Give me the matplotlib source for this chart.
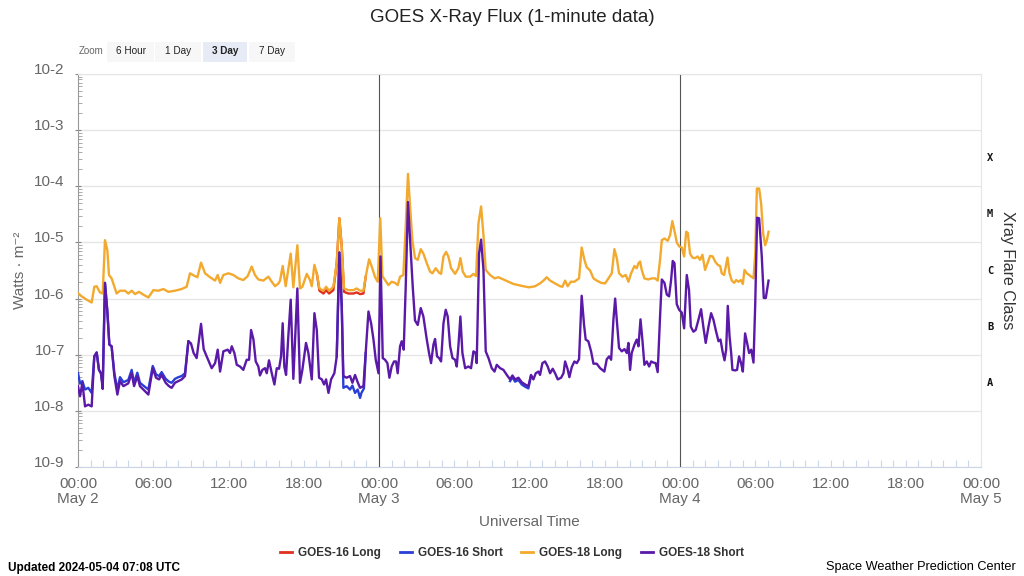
import numpy as np
import matplotlib
matplotlib.use("Agg")
import matplotlib.pyplot as plt
from matplotlib.patches import Rectangle
from matplotlib.lines import Line2D
from matplotlib.transforms import blended_transform_factory

plt.rcParams['font.family'] = ['Liberation Sans', 'DejaVu Sans']

# ---------------- data (hours since 2024-05-02 00:00 UTC, log10 of W/m^2) -------------
g18_long_t = [0, 0.29, 0.69, 1.09, 1.3, 1.49, 1.75, 1.97, 2.15, 2.34, 2.47, 2.68, 3.08, 3.35, 3.75, 4.01,
              4.28, 4.55, 4.86, 5.21, 5.61, 6.01, 6.41, 6.81, 7.2, 7.73, 8.27, 8.66, 8.93, 9.33, 9.52, 9.81,
              10.13, 10.53, 10.93, 11.14, 11.33, 11.59, 11.99,
              12.39, 12.78, 13.18, 13.53, 13.85, 14.11, 14.38, 14.78, 15.18, 15.45, 15.71, 15.98, 16.11, 16.32,
              16.56, 16.96, 17.17, 17.49, 17.7, 17.89, 18.24, 18.5, 18.64, 18.85, 19.04, 19.25, 19.57, 19.78,
              20.02, 20.36, 20.63, 20.84, 21.03, 21.21, 21.56, 21.96, 22.22, 22.49, 22.76, 22.94, 23.21, 23.42,
              23.69, 23.9, 24.1, 24.27,
              24.48, 24.75, 25.01, 25.28, 25.49, 25.68, 25.94, 26.13, 26.31, 26.48, 26.66, 26.87, 27.09, 27.33,
              27.54, 27.81, 28.07, 28.26, 28.52, 28.79, 28.95, 29.14, 29.35, 29.53, 29.75, 30.07, 30.33, 30.49,
              30.68, 30.92, 31.27, 31.53, 31.74, 31.93, 32.14, 32.33, 32.51, 32.86, 33.21, 33.52, 33.92, 34.32,
              34.72, 35.12, 35.51, 35.97,
              36.44, 36.84, 37.11, 37.37, 37.64, 38.04, 38.44, 38.62, 38.84, 39.05, 39.29, 39.58, 39.95, 40.16,
              40.38, 40.56, 40.83, 41.1, 41.36, 41.71, 42.03, 42.3, 42.56, 42.77, 42.96, 43.14, 43.41, 43.67,
              43.89, 44.1, 44.37, 44.55, 44.69, 44.82, 44.95, 45.16, 45.48, 45.75, 46.01, 46.22, 46.41, 46.55,
              46.76, 47.02, 47.21, 47.39, 47.61,
              47.74, 47.93, 48.14, 48.33, 48.49, 48.62, 48.8, 48.99, 49.2, 49.41, 49.6, 49.79, 50.0, 50.19,
              50.4, 50.61, 50.8, 51.01, 51.2, 51.33, 51.52, 51.65, 51.79, 51.95, 52.13, 52.32, 52.48, 52.66,
              52.85, 53.01, 53.14, 53.33, 53.52, 53.68, 53.86, 54.0, 54.13, 54.31, 54.47, 54.63, 54.79, 54.93,
              55.06]
g18_long_log = [-5.905, -5.96, -6.02, -6.07, -5.79, -5.78, -5.89, -5.91, -4.96, -5.14, -5.58, -5.64, -5.91,
                -5.86, -5.86, -5.91, -5.86, -5.92, -5.88, -5.93, -5.98, -5.85, -5.86, -5.83, -5.88, -5.86,
                -5.83, -5.79, -5.55, -5.60, -5.62, -5.36, -5.55, -5.62, -5.68, -5.58, -5.72, -5.58, -5.55,
                -5.58, -5.64, -5.67, -5.60, -5.43, -5.58, -5.66, -5.68, -5.61, -5.70, -5.78, -5.73, -5.68,
                -5.42, -5.78, -5.20, -5.80, -5.05, -5.82, -5.79, -5.56, -5.67, -5.78, -5.40, -5.55, -5.82,
                -5.86, -5.79, -5.86, -5.79, -5.37, -4.57, -5.08, -5.82, -5.85, -5.85, -5.82, -5.86, -5.86,
                -5.61, -5.30, -5.43, -5.62, -5.70, -4.57, -5.60,
                -5.67, -5.76, -5.70, -5.72, -5.76, -5.61, -5.58, -4.72, -3.78, -4.37, -4.96, -5.28, -5.31,
                -5.12, -5.20, -5.37, -5.52, -5.55, -5.46, -5.54, -5.56, -5.25, -5.17, -5.25, -5.46, -5.56,
                -5.46, -5.28, -5.52, -5.61, -5.61, -5.56, -5.60, -4.66, -4.36, -4.87, -5.49, -5.58, -5.64,
                -5.62, -5.66, -5.70, -5.74, -5.76, -5.78, -5.80,
                -5.78, -5.73, -5.68, -5.62, -5.68, -5.73, -5.78, -5.79, -5.68, -5.78, -5.70, -5.70, -5.64,
                -5.09, -5.31, -5.44, -5.50, -5.64, -5.68, -5.72, -5.73, -5.64, -5.55, -5.12, -5.28, -5.55,
                -5.61, -5.58, -5.70, -5.55, -5.42, -5.46, -5.37, -5.34, -5.49, -5.64, -5.66, -5.64, -5.64,
                -5.68, -5.31, -4.96, -4.93, -4.97, -4.87, -4.62, -4.85,
                -5.00, -5.07, -5.09, -5.25, -4.81, -4.83, -5.20, -5.27, -5.28, -5.25, -5.31, -5.22, -5.49,
                -5.37, -5.24, -5.25, -5.34, -5.40, -5.42, -5.55, -5.58, -5.43, -5.27, -5.55, -5.68, -5.72,
                -5.67, -5.70, -5.67, -5.74, -5.49, -5.55, -5.58, -5.61, -5.64, -5.20, -4.04, -4.04, -4.31,
                -4.84, -5.05, -4.96, -4.81]

g18_short_t = [0, 0.16, 0.35, 0.56, 0.82, 1.09, 1.3, 1.49, 1.67, 1.83, 1.97, 2.15, 2.34, 2.5, 2.68, 2.9,
               3.14, 3.35, 3.62, 4.01, 4.28, 4.47, 4.73, 4.94, 5.21, 5.61, 5.96, 6.22, 6.46, 6.67, 6.99, 7.25,
               7.47, 7.73, 8.0, 8.27, 8.53, 8.8, 9.01, 9.22, 9.46, 9.81, 10.02, 10.26, 10.66, 10.93, 11.14,
               11.33, 11.59, 11.94,
               12.12, 12.26, 12.47, 12.66, 12.92, 13.18, 13.45, 13.64, 13.8, 13.99, 14.17, 14.38, 14.51, 14.7,
               14.91, 15.05, 15.23, 15.45, 15.66, 15.85, 16.03, 16.19, 16.32, 16.45, 16.59, 16.77, 16.96,
               17.17, 17.3, 17.49, 17.7, 17.89, 18.18, 18.37, 18.64, 18.85, 19.04, 19.22, 19.44, 19.62, 19.78,
               19.97, 20.18, 20.44, 20.63, 20.84, 21.03, 21.16, 21.42, 21.69, 21.88, 22.09, 22.3, 22.49, 22.76,
               22.94, 23.16, 23.37, 23.56, 23.74, 23.96, 24.12, 24.3,
               24.48, 24.67, 24.83, 25.01, 25.2, 25.36, 25.49, 25.68, 25.81, 25.97, 26.13, 26.31, 26.5, 26.69,
               26.87, 27.09, 27.33, 27.54, 27.81, 27.99, 28.15, 28.34, 28.47, 28.63, 28.79, 28.95, 29.14,
               29.32, 29.48, 29.67, 29.86, 30.07, 30.2, 30.33, 30.49, 30.65, 30.87, 31.13, 31.34, 31.53,
               31.71, 31.79, 31.98, 32.14, 32.33, 32.51, 32.73, 32.99, 33.21, 33.39, 33.66, 33.92, 34.19,
               34.45, 34.64, 34.85, 35.12, 35.38, 35.65,
               35.91, 36.12, 36.31, 36.5, 36.71, 36.84, 37.03, 37.24, 37.45, 37.64, 37.85, 38.04, 38.25, 38.52,
               38.71, 38.84, 39.03, 39.18, 39.37, 39.58, 39.77, 39.95, 40.16, 40.35, 40.48, 40.69, 40.91,
               41.1, 41.36, 41.63, 41.97, 42.16, 42.35, 42.51, 42.69, 42.83, 42.96, 43.14, 43.36, 43.57,
               43.76, 43.89, 44.02, 44.15, 44.37, 44.55, 44.69, 44.85, 45.0, 45.16, 45.35, 45.54, 45.7,
               45.88, 46.06, 46.22, 46.41, 46.55, 46.76, 46.95, 47.13, 47.29, 47.42, 47.56,
               47.74, 47.93, 48.14, 48.33, 48.54, 48.72, 48.86, 49.07, 49.25, 49.47, 49.68, 49.86, 50.05,
               50.27, 50.48, 50.67, 50.85, 51.07, 51.23, 51.39, 51.55, 51.68, 51.81, 51.95, 52.08, 52.18,
               52.4, 52.55, 52.71, 52.87, 53.01, 53.19, 53.35, 53.51, 53.68, 53.86, 54.0, 54.15, 54.31,
               54.52, 54.68, 54.84, 55.06]
g18_short_log = [-7.56, -7.74, -7.50, -7.92, -7.89, -7.92, -7.03, -6.96, -7.27, -7.33, -7.61, -5.72, -6.23,
                 -6.82, -6.85, -7.38, -7.71, -7.47, -7.56, -7.51, -7.33, -7.56, -7.38, -7.56, -7.62, -7.71,
                 -7.24, -7.41, -7.44, -7.36, -7.50, -7.56, -7.59, -7.50, -7.47, -7.44, -7.38, -6.76, -6.80,
                 -6.97, -7.06, -6.45, -6.90, -7.03, -7.24, -7.15, -6.91, -7.30, -6.94, -6.91,
                 -6.97, -6.85, -6.97, -7.18, -7.21, -7.27, -7.09, -7.09, -6.56, -6.73, -7.12, -7.21, -7.37,
                 -7.27, -7.24, -7.33, -7.10, -7.33, -7.53, -7.24, -7.25, -7.03, -6.44, -7.21, -7.36, -6.67,
                 -6.02, -7.43, -6.79, -5.82, -7.50, -7.27, -6.79, -6.97, -7.44, -6.26, -6.56, -7.41, -7.44,
                 -7.53, -7.44, -7.68, -7.44, -7.33, -7.03, -5.18, -6.14, -7.38, -7.41, -7.38, -7.50, -7.36,
                 -7.49, -7.59, -7.56, -6.97, -6.23, -6.44, -6.73, -7.09, -7.33, -5.25, -7.06,
                 -7.09, -7.15, -7.41, -7.21, -7.12, -7.12, -7.33, -6.85, -6.76, -6.91, -5.79, -4.28, -5.02,
                 -5.79, -6.39, -6.47, -6.17, -6.32, -6.73, -6.97, -7.15, -6.82, -6.72, -7.03, -7.06, -7.12,
                 -6.44, -6.20, -6.32, -6.85, -7.06, -7.09, -7.21, -6.85, -6.32, -6.97, -7.24, -7.21, -7.24,
                 -6.94, -6.97, -7.15, -5.20, -4.95, -5.49, -6.94, -7.06, -7.24, -7.30, -7.18, -7.24, -7.27,
                 -7.36, -7.44, -7.37, -7.44, -7.41, -7.49, -7.53,
                 -7.56, -7.36, -7.44, -7.33, -7.30, -7.36, -7.15, -7.12, -7.21, -7.33, -7.25, -7.33, -7.44,
                 -7.41, -7.33, -7.12, -7.25, -7.40, -7.22, -7.12, -7.15, -7.08, -5.95, -6.47, -6.73, -6.76,
                 -6.94, -7.16, -7.16, -7.24, -7.30, -7.08, -7.03, -7.09, -6.38, -6.00, -6.38, -6.88, -6.94,
                 -6.90, -6.97, -6.79, -7.27, -6.97, -6.82, -6.73, -6.85, -6.37, -6.73, -7.18, -7.12, -7.21,
                 -7.12, -7.14, -7.15, -7.31, -6.32, -5.66, -5.72, -5.93, -5.96, -5.67, -5.33, -5.37,
                 -6.10, -6.20, -6.25, -6.53, -5.58, -5.85, -6.50, -6.59, -6.56, -6.38, -6.19, -6.50, -6.79,
                 -6.50, -6.26, -6.38, -6.56, -6.76, -6.73, -6.94, -7.10, -6.91, -6.13, -6.67, -6.97, -7.27,
                 -7.28, -7.27, -7.03, -7.15, -7.30, -6.62, -6.79, -6.97, -6.91, -7.14, -6.08, -4.56, -4.57,
                 -5.25, -5.99, -5.99, -5.68]

# GOES-16 where it departs visibly from GOES-18 (gaps = nan)
g16_long_t = [19.04, 19.25, 19.57, 19.78, 20.02, 20.36, 20.63, 20.84, 21.03, 21.21, 21.56, 21.96, 22.22,
              22.49, 22.76, 22.94]
g16_long_log = [-5.55, -5.86, -5.91, -5.85, -5.91, -5.85, -5.37, -4.57, -5.08, -5.88, -5.91, -5.91, -5.89,
                -5.92, -5.91, -5.61]

g16_short_t = [0, 0.16, 0.35, 0.56, 0.82, 1.09, 1.3, 1.49, 1.67, 1.83, 1.97, 2.15, 2.34, 2.5, 2.68, 2.9,
               3.14, 3.35, 3.62, 4.01, 4.28, 4.47, 4.73, 4.94, 5.21, 5.61, 5.96, 6.22, 6.46, 6.67, 6.99,
               7.25, 7.47, 7.73, 8.0, 8.27, 8.53, 8.8, 9.0,
               20.63, 20.84, 21.03, 21.16, 21.42, 21.69, 21.88, 22.09, 22.3, 22.49, 22.6, 22.8, 22.94, 23.0,
               34.45, 34.64, 34.85, 35.12, 35.38, 35.65, 35.91, 36.12]
g16_short_log = [-7.33, -7.51, -7.47, -7.62, -7.59, -7.68, -7.03, -6.96, -7.27, -7.33, -7.55, -5.72, -6.23,
                 -6.82, -6.85, -7.33, -7.62, -7.40, -7.49, -7.45, -7.27, -7.50, -7.32, -7.50, -7.55, -7.62,
                 -7.20, -7.35, -7.38, -7.31, -7.43, -7.48, -7.50, -7.43, -7.40, -7.38, -7.33, -6.76, np.nan,
                 -7.03, -5.18, -6.14, -7.59, -7.56, -7.62, -7.55, -7.68, -7.62, -7.77, -7.68, -7.60, -6.97, np.nan,
                 -7.47, -7.40, -7.48, -7.45, -7.53, -7.57, -7.60, -7.38]

series_names = ["GOES-16 Long", "GOES-16 Short", "GOES-18 Long", "GOES-18 Short"]
series_colors = ["#e0301e", "#2a3fd6", "#f2a92e", "#5b19a8"]

x_ticks = list(range(0, 73, 6))
x_tick_labels = ["00:00\nMay 2", "06:00", "12:00", "18:00", "00:00\nMay 3", "06:00", "12:00", "18:00",
                 "00:00\nMay 4", "06:00", "12:00", "18:00", "00:00\nMay 5"]
y_exponents = [-9, -8, -7, -6, -5, -4, -3, -2]
y_tick_labels = ["10-9", "10-8", "10-7", "10-6", "10-5", "10-4", "10-3", "10-2"]
flare_classes = ["A", "B", "C", "M", "X"]
flare_class_exp = [-7.5, -6.5, -5.5, -4.5, -3.5]

# ---------------- figure ----------------
W, H = 1024, 576
fig = plt.figure(figsize=(W / 100, H / 100), dpi=100)
L, R, T, B = 78, 981, 74, 467
ax = fig.add_axes([L / W, 1 - B / H, (R - L) / W, (B - T) / H])

ax.set_yscale("log")
ax.set_xlim(0, 72)
ax.set_ylim(1e-9, 1e-2)

def pw(v):
    return np.power(10.0, np.array(v, dtype=float))

lw = 1.7
ax.plot(g16_long_t, pw(g16_long_log), color=series_colors[0], lw=lw, zorder=3)
ax.plot(g16_short_t, pw(g16_short_log), color=series_colors[1], lw=lw, zorder=3)
ax.plot(g18_long_t, pw(g18_long_log), color=series_colors[2], lw=lw, zorder=4)
ax.plot(g18_short_t, pw(g18_short_log), color=series_colors[3], lw=lw, zorder=4)

# day separators
for d in (24, 48):
    ax.axvline(d, color="#555555", lw=0.8, zorder=2)

# grid
ax.set_yticks([10.0 ** e for e in y_exponents])
ax.set_yticklabels(y_tick_labels)
ax.grid(axis="y", which="major", color="#e6e6e6", lw=1, zorder=0)
ax.tick_params(axis="y", which="major", labelsize=11, labelcolor="#666666", colors="#888888",
               direction="inout", length=5, pad=7)
ax.tick_params(axis="y", which="minor", direction="in", length=3, color="#aaaaaa", width=0.7)
for t in ax.get_yticklabels():
    t.set_verticalalignment("baseline")

ax.set_xticks(x_ticks)
ax.set_xticklabels(x_tick_labels, linespacing=1.15)
ax.set_xticks(np.arange(0, 73, 1), minor=True)
ax.tick_params(axis="x", which="both", direction="in", length=5, color="#ccd6eb", width=0.8)
ax.tick_params(axis="x", which="major", labelsize=11, labelcolor="#666666", pad=7)

ax.spines["top"].set_color("#e6e6e6")
ax.spines["right"].set_color("#e6e6e6")
ax.spines["left"].set_color("#999999")
ax.spines["bottom"].set_color("#ccd6eb")
for s in ax.spines.values():
    s.set_linewidth(0.8)

# flare class labels on right
tr = blended_transform_factory(fig.transFigure, ax.transData)
for c, e in zip(flare_classes, flare_class_exp):
    ax.text(990 / W, 10.0 ** e, c, transform=tr, fontsize=7.5, fontweight="bold",
            family="DejaVu Sans Mono", color="#111111", va="center", ha="center", clip_on=False)

fig.text(1007 / W, 1 - 270 / H, "Xray Flare Class", rotation=270, fontsize=11.5, color="#333333",
         ha="center", va="center")
fig.text(20 / W, 1 - 270 / H, "Watts · m⁻²", rotation=90, fontsize=11, color="#666666",
         ha="center", va="center")
fig.text((L + R) / 2 / W, 1 - 522 / H, "Universal Time", fontsize=11, color="#666666",
         ha="center", va="center")
fig.text(512 / W, 1 - 17 / H, "GOES X-Ray Flux (1-minute data)", fontsize=13.5, color="#222222",
         ha="center", va="center")

# zoom buttons
fig.text(91 / W, 1 - 51 / H, "Zoom", fontsize=7, color="#666666", ha="center", va="center")
buttons = [("6 Hour", 107, 154), ("1 Day", 155, 201), ("3 Day", 203, 247), ("7 Day", 249, 295)]
for name, x0, x1 in buttons:
    sel = name == "3 Day"
    fig.patches.append(Rectangle((x0 / W, 1 - 62 / H), (x1 - x0) / W, 20 / H, transform=fig.transFigure,
                                 facecolor="#e6ebf5" if sel else "#f7f7f7", edgecolor="none", zorder=0))
    fig.text((x0 + x1) / 2 / W, 1 - 51 / H, name, fontsize=7.2, color="#222222",
             fontweight="bold" if sel else "normal", ha="center", va="center")

# legend
handles = [Line2D([0], [0], color=c, lw=2) for c in series_colors]
leg = fig.legend(handles, series_names, loc="center", bbox_to_anchor=(0.5, 1 - 553 / H), ncol=4,
                 frameon=False, handlelength=1.0, handletextpad=0.5, columnspacing=1.6,
                 prop={"weight": "bold", "size": 8.5})
for t in leg.get_texts():
    t.set_color("#333333")

fig.text(8 / W, 1 - 568 / H, "Updated 2024-05-04 07:08 UTC", fontsize=8.5, fontweight="bold",
         color="#000000", ha="left", va="center")
fig.text(1016 / W, 1 - 567 / H, "Space Weather Prediction Center", fontsize=9.2, color="#000000",
         ha="right", va="center")

fig.savefig("out.png", dpi=100)
